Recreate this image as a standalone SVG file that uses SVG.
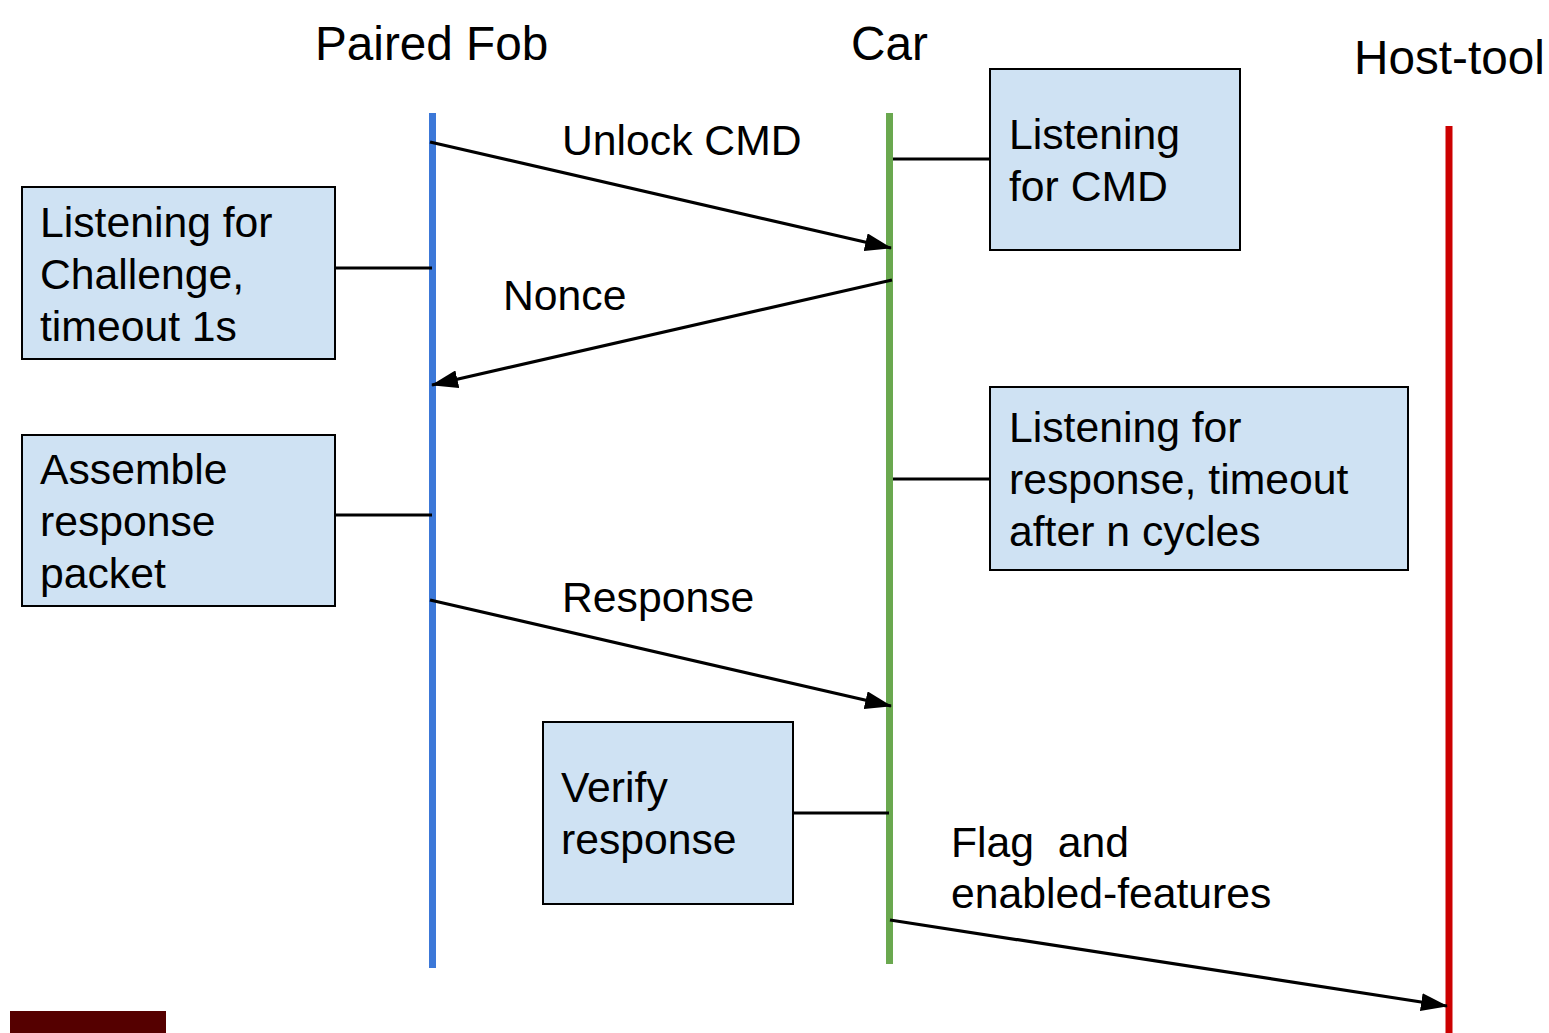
<svg xmlns="http://www.w3.org/2000/svg" width="1549" height="1033" viewBox="0 0 1549 1033">
<defs>
<style>
text{font-family:"Liberation Sans",Arial,sans-serif;fill:#000}
.t{font-size:47.7px}
.l{font-size:42.7px}
.box{fill:#cfe2f3;stroke:#000;stroke-width:2}
.c{stroke:#000;stroke-width:3.2;fill:none}
.a{stroke:#000;stroke-width:3.2;fill:none;marker-end:url(#ah)}
</style>
<marker id="ah" viewBox="0 0 27 18" refX="26" refY="9" markerWidth="27" markerHeight="18" orient="auto" markerUnits="userSpaceOnUse">
<path d="M0,0 L27,9 L0,18 Z" fill="#000"/>
</marker>
</defs>
<rect width="1549" height="1033" fill="#fff"/>
<g id="titles">
<text class="t" x="315" y="60">Paired Fob</text>
<text class="t" x="851" y="60">Car</text>
<text class="t" x="1354" y="74">Host-tool</text>
</g>
<g id="lifelines">
<line x1="432.5" y1="113" x2="432.5" y2="968" stroke="#3c78d8" stroke-width="7"/>
<line x1="889.5" y1="113" x2="889.5" y2="964" stroke="#6aa84f" stroke-width="7"/>
<line x1="1449" y1="126" x2="1449" y2="1033" stroke="#cc0000" stroke-width="7"/>
</g>
<g id="connectors">
<line class="c" x1="335" y1="268" x2="432" y2="268"/>
<line class="c" x1="335" y1="515" x2="432" y2="515"/>
<line class="c" x1="893" y1="159" x2="990" y2="159"/>
<line class="c" x1="893" y1="479" x2="990" y2="479"/>
<line class="c" x1="793" y1="813" x2="889" y2="813"/>
<line class="a" x1="430" y1="142" x2="891" y2="248"/>
<line class="a" x1="892" y1="280" x2="432" y2="385"/>
<line class="a" x1="430" y1="600" x2="891" y2="706"/>
<line class="a" x1="890" y1="920" x2="1447" y2="1006"/>
</g>
<g id="node-fob-listen">
<rect class="box" x="22" y="187" width="313" height="172"/>
<text class="l" x="40" y="237">Listening for</text>
<text class="l" x="40" y="289">Challenge,</text>
<text class="l" x="40" y="341">timeout 1s</text>
</g>
<g id="node-fob-assemble">
<rect class="box" x="22" y="435" width="313" height="171"/>
<text class="l" x="40" y="484">Assemble</text>
<text class="l" x="40" y="536">response</text>
<text class="l" x="40" y="588">packet</text>
</g>
<g id="node-car-listen-cmd">
<rect class="box" x="990" y="69" width="250" height="181"/>
<text class="l" x="1009" y="149">Listening</text>
<text class="l" x="1009" y="201">for CMD</text>
</g>
<g id="node-car-listen-resp">
<rect class="box" x="990" y="387" width="418" height="183"/>
<text class="l" x="1009" y="442">Listening for</text>
<text class="l" x="1009" y="494">response, timeout</text>
<text class="l" x="1009" y="546">after n cycles</text>
</g>
<g id="node-verify">
<rect class="box" x="543" y="722" width="250" height="182"/>
<text class="l" x="561" y="802">Verify</text>
<text class="l" x="561" y="854">response</text>
</g>
<g id="labels">
<text class="l" x="562" y="155">Unlock CMD</text>
<text class="l" x="503" y="310">Nonce</text>
<text class="l" x="562" y="612">Response</text>
<text class="l" x="951" y="857" xml:space="preserve">Flag  and</text>
<text class="l" x="951" y="908">enabled-features</text>
</g>
<rect x="10" y="1011" width="156" height="22" fill="#550000"/>
</svg>
